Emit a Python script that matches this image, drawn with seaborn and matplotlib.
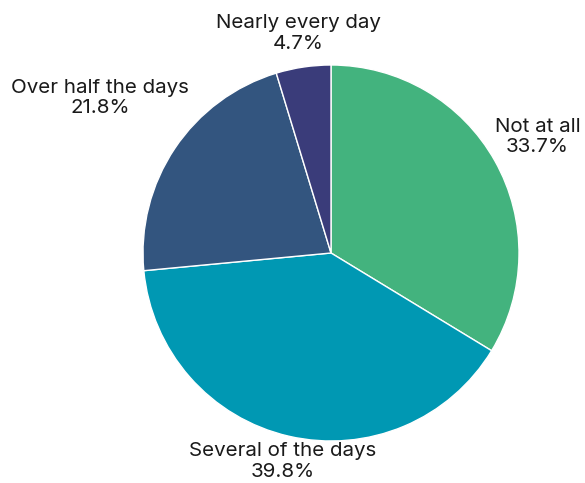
import numpy as np
import matplotlib
matplotlib.use("Agg")
import matplotlib.pyplot as plt
import seaborn as sns

categories = ["Not at all", "Several of the days", "Over half the days", "Nearly every day"]
values = [33.7, 39.8, 21.8, 4.7]
colors = ["#43B37E", "#0098B3", "#33557F", "#3A3C7A"]
label_dist = [1.26, 1.14, 1.48, 1.18]

sns.set_theme(style="white")
plt.rcParams['font.family'] = ['Inter', 'DejaVu Sans']

fig = plt.figure(figsize=(5.85, 4.83), dpi=100)
ax = fig.add_axes([0, 0, 1, 1])
palette = sns.color_palette(colors)
wedges, _ = ax.pie(values, colors=palette, startangle=90, counterclock=False,
                   radius=1, wedgeprops=dict(edgecolor="white", linewidth=1))
for w, cat, v, d in zip(wedges, categories, values, label_dist):
    ang = np.deg2rad((w.theta1 + w.theta2) / 2)
    ax.text(d * np.cos(ang), d * np.sin(ang), f"{cat}\n{v:.1f}%", ha="center", va="center",
            fontsize=14.8, color="#1a1a1a", linespacing=1.2)
ax.set_xlim(-331 / 188, (585 - 331) / 188)
ax.set_ylim(-(483 - 253) / 188, 253 / 188)
ax.set_aspect("auto")
ax.axis("off")
fig.savefig("out.png", dpi=100)
